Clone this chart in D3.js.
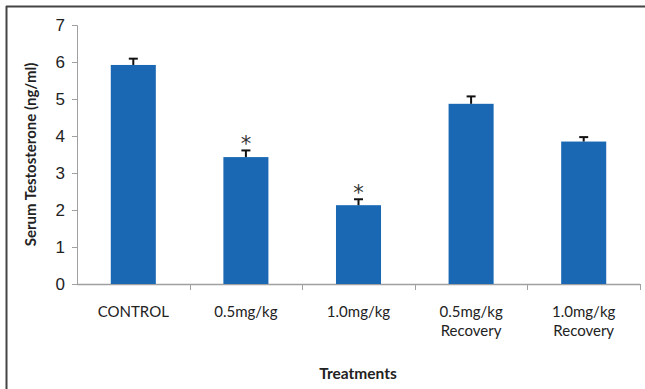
<!DOCTYPE html>
<html>
<head>
<meta charset="utf-8">
<script src="https://cdn.jsdelivr.net/npm/d3@7"></script>
<style>
  body { margin: 0; background: #fff; }
  svg { display: block; font-family: Lato, "Open Sans", sans-serif; }
</style>
</head>
<body>
<svg id="chart" width="645" height="389"></svg>
<script>
// data
const categories = ['CONTROL', '0.5mg/kg', '1.0mg/kg', '0.5mg/kg Recovery', '1.0mg/kg Recovery'];
const means = [5.92, 3.43, 2.13, 4.87, 3.85];
const errors = [0.17, 0.18, 0.16, 0.2, 0.12];
const marked = [false, true, true, false, false];
const yTicks = [0, 1, 2, 3, 4, 5, 6, 7];

const barColor = '#1a68b3',
    axisColor = '#a0a0a0',
    svg = d3.select('#chart'),
    margin = { top: 25, right: 5, bottom: 105, left: 77 },
    width = 640 - margin.left,
    height = 284 - margin.top;

// frame lines (top + left)
svg.append('line').attr('x1', 6).attr('y1', 6.5).attr('x2', 645).attr('y2', 6.5)
    .style('stroke', '#444').style('stroke-width', 2);
svg.append('line').attr('x1', 6.5).attr('y1', 6).attr('x2', 6.5).attr('y2', 389)
    .style('stroke', '#444').style('stroke-width', 2);

const g = svg.append('g').attr('transform', 'translate(' + margin.left + ',' + margin.top + ')');

const xScale = d3.scaleBand().domain(categories).range([0, width]).paddingInner(0.6).paddingOuter(0.3);
const yScale = d3.scaleLinear().domain([0, 7]).range([height, 0]);

// y axis
g.append('g').attr('id', 'yAxisG')
    .call(d3.axisLeft(yScale).tickValues(yTicks).tickSize(5).tickFormat(d3.format('d')))
    .call(function (a) {
        a.select('.domain').attr('stroke', axisColor).attr('d', 'M-5,0.5H0.5V' + height);
        a.selectAll('.tick line').attr('stroke', axisColor);
        a.selectAll('.tick text').attr('x', -12).style('font-size', '17px').attr('fill', '#222');
    });

// x axis with ticks at band boundaries
const bounds = [0].concat(categories.map(function (c) { return xScale(c) + xScale.bandwidth() + xScale.step() * xScale.paddingInner() / 2; }));
const xAx = g.append('g').attr('transform', 'translate(0,' + height + ')');
xAx.append('line').attr('x1', 0).attr('x2', width).attr('y1', 0.5).attr('y2', 0.5)
    .style('stroke', axisColor).style('stroke-width', 1.5);
xAx.selectAll('.xt').data(bounds.slice(1)).enter().append('line')
    .attr('x1', function (d) { return Math.round(d) + 0.5; })
    .attr('x2', function (d) { return Math.round(d) + 0.5; })
    .attr('y1', 0).attr('y2', 6)
    .style('stroke', axisColor);

// category labels
categories.forEach(function (c) {
    const parts = c.split(' ');
    const t = xAx.append('text')
        .attr('x', xScale(c) + xScale.bandwidth() / 2)
        .attr('y', 33)
        .attr('text-anchor', 'middle')
        .style('font-size', '15px')
        .attr('fill', '#222');
    parts.forEach(function (p, i) {
        t.append('tspan').attr('x', xScale(c) + xScale.bandwidth() / 2).attr('dy', i === 0 ? 0 : 19).text(p);
    });
});

// bars
g.selectAll('.bar').data(means).enter().append('rect')
    .attr('x', function (d, i) { return xScale(categories[i]); })
    .attr('y', function (d) { return yScale(d); })
    .attr('width', xScale.bandwidth())
    .attr('height', function (d) { return height - yScale(d); })
    .attr('fill', barColor);

// error bars (upper only)
means.forEach(function (m, i) {
    const cx = xScale(categories[i]) + xScale.bandwidth() / 2;
    g.append('line').attr('x1', cx).attr('x2', cx)
        .attr('y1', yScale(m)).attr('y2', yScale(m + errors[i]))
        .style('stroke', '#111').style('stroke-width', 2);
    g.append('line').attr('x1', cx - 4.5).attr('x2', cx + 4.5)
        .attr('y1', yScale(m + errors[i])).attr('y2', yScale(m + errors[i]))
        .style('stroke', '#111').style('stroke-width', 2);
    if (marked[i]) {
        g.append('text').attr('x', cx).attr('y', yScale(m + errors[i]) + 1)
            .attr('text-anchor', 'middle').style('font-size', '21px')
            .style('font-family', '"DejaVu Sans", sans-serif').attr('fill', '#333')
            .text('*');
    }
});

// axis titles
svg.append('text')
    .attr('transform', 'translate(36,' + (margin.top + height / 2) + ') rotate(-90)')
    .attr('text-anchor', 'middle')
    .style('font-size', '15px').style('font-weight', 'bold').attr('fill', '#222')
    .text('Serum Testosterone (ng/ml)');
svg.append('text')
    .attr('x', 358).attr('y', 379)
    .attr('text-anchor', 'middle')
    .style('font-size', '15.5px').style('font-weight', 'bold').attr('fill', '#222')
    .text('Treatments');
</script>
</body>
</html>
